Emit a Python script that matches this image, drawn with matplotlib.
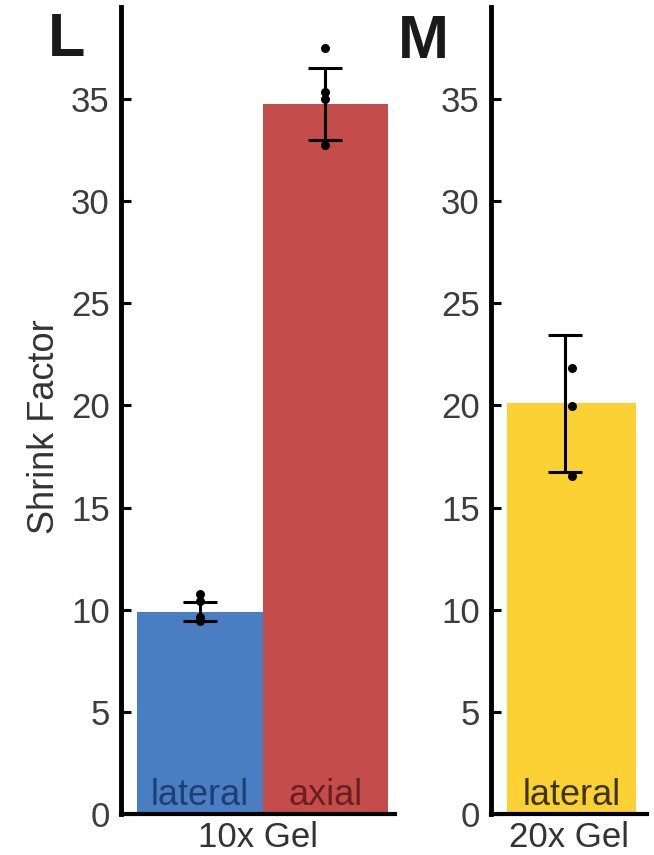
import matplotlib
matplotlib.use('Agg')
import matplotlib.pyplot as plt

plt.rcParams['font.family'] = ['Liberation Sans', 'DejaVu Sans']

# 10x geel: keskmised, vead ja üksikud mõõtmised
gel10_labels = ["lateral", "axial"]
gel10_means = [9.9, 34.75]
gel10_err = [0.47, 1.75]
gel10_points = [[10.75, 10.45, 9.65, 9.45], [37.5, 35.35, 35.0, 32.75]]

# 20x geel
gel20_labels = ["lateral"]
gel20_means = [20.1]
gel20_err = [3.35]
gel20_points = [[21.85, 19.95, 16.55]]

bar_colors_10 = ["#4a7ec2", "#c44d4b"]
text_colors_10 = ["#1d3f73", "#6b1e22"]
bar_colors_20 = ["#fbd133"]
text_colors_20 = ["#3d3410"]

W, H = 654, 855
tick_grey = "#3c3c3c"


# Ühe paneeli joonistamine, et mõlemad näeks ühesugused välja
def draw_panel(ax, labels, means, err, points, colors, tcolors, xlabel, err_shift=0.0):
	x = list(range(len(labels)))
	ax.bar(x, means, width=1.0, color=colors, edgecolor='none', zorder=1)
	ax.errorbar([i + err_shift for i in x], means, yerr=err, fmt='none', ecolor='black',
				elinewidth=2.2, capsize=12, capthick=2.2, zorder=3)
	for i, pts in enumerate(points):
		ax.scatter([i] * len(pts), pts, s=42, color='black', zorder=4, linewidths=0)
	for i, lab in enumerate(labels):
		ax.text(i, 0.45, lab, ha='center', va='baseline', fontsize=26, color=tcolors[i], zorder=2)
	ax.set_ylim(0, 39.5)
	ax.set_yticks(range(0, 36, 5))
	ax.set_xticks([])
	ax.spines['top'].set_visible(False)
	ax.spines['right'].set_visible(False)
	ax.spines['left'].set_linewidth(3.5)
	ax.spines['bottom'].set_linewidth(3.0)
	ax.tick_params(axis='y', direction='in', length=7, width=2.2, pad=8,
				   labelsize=25, labelcolor=tick_grey)
	ax.set_xlabel(xlabel, fontsize=25, color='#333333', labelpad=5)


fig = plt.figure(figsize=(W / 100, H / 100), dpi=100)

ax1 = fig.add_axes([121 / W, (H - 814) / H, 274 / W, 807 / H])
draw_panel(ax1, gel10_labels, gel10_means, gel10_err, gel10_points,
		   bar_colors_10, text_colors_10, "10x Gel")
ax1.set_xlim(-0.63, 1.554)

ax2 = fig.add_axes([491 / W, (H - 814) / H, 156 / W, 807 / H])
draw_panel(ax2, gel20_labels, gel20_means, gel20_err, gel20_points,
		   bar_colors_20, text_colors_20, "20x Gel", err_shift=-0.05)
ax2.set_xlim(-0.624, 0.585)

fig.text(45 / W, 1 - 427 / H, "Shrink Factor", rotation=90, ha='center', va='center',
		 fontsize=26, color='#333333')

# Paneelide tähed
fig.text(48 / W, 1 - 12 / H, "L", ha='left', va='top', fontsize=44, fontweight='bold', color='#1a1a1a')
fig.text(398 / W, 1 - 14 / H, "M", ha='left', va='top', fontsize=44, fontweight='bold', color='#1a1a1a')

plt.savefig("out.png", dpi=100)
plt.clf()
